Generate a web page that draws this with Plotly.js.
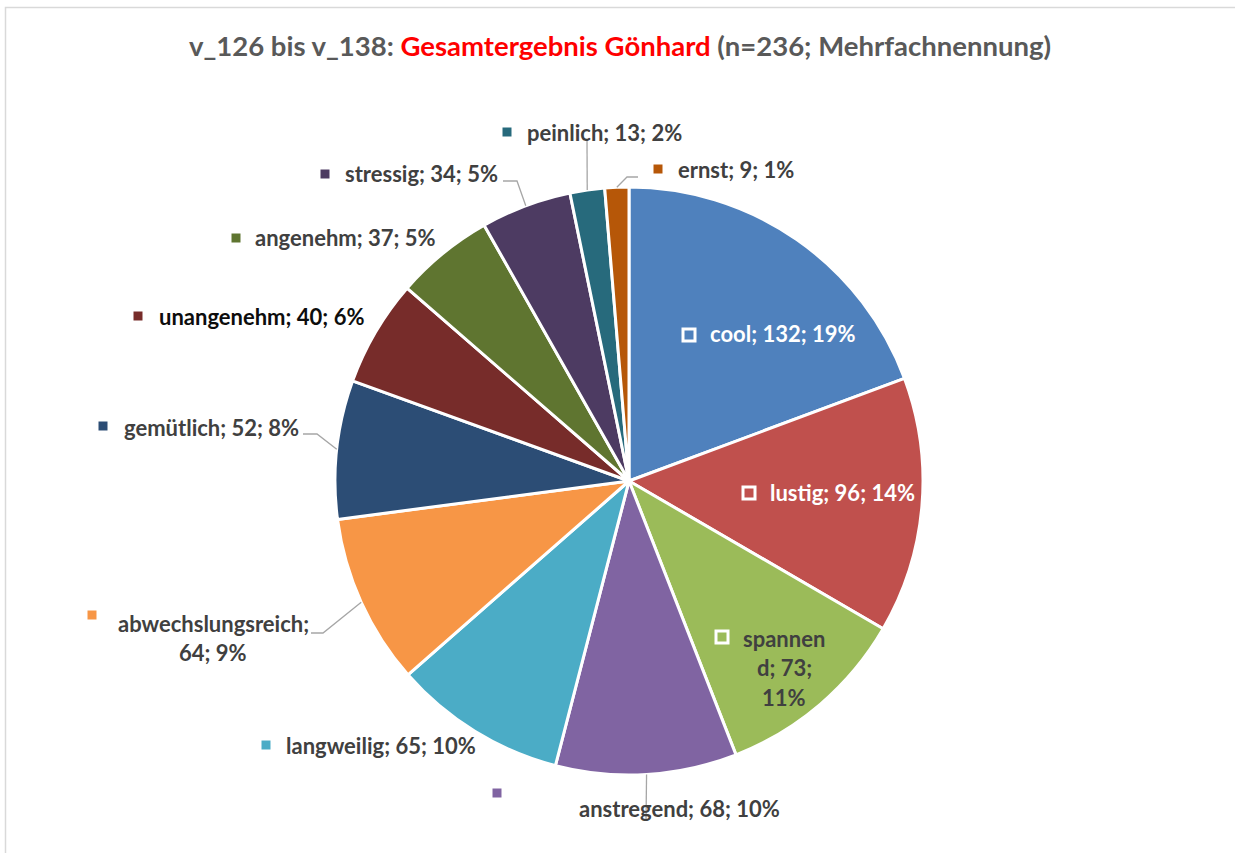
<!DOCTYPE html>
<html><head><meta charset="utf-8">
<script src="https://cdn.plot.ly/plotly-3.0.1.min.js"></script>
<style>html,body{margin:0;padding:0;background:#fff}</style>
</head><body><div id="chart" style="width:1235px;height:853px"></div>
<script>
// ---- data ----
const categories = ["cool","lustig","spannend","anstregend","langweilig","abwechslungsreich","gemütlich","unangenehm","angenehm","stressig","peinlich","ernst"];
const counts = [132,96,73,68,65,64,52,40,37,34,13,9];
const colors = ["#4F81BD","#C0504D","#9BBB59","#8064A2","#4BACC6","#F79646","#2C4D75","#772C2A","#5F7530","#4D3B62","#276A7C","#B65708"];
const titlePre = "v_126 bis v_138: ";
const titleRed = "Gesamtergebnis Gönhard";
const titlePost = " (n=236; Mehrfachnennung)";

// ---- layout helpers (pixels) ----
const W = 1235, H = 853;
const CX = 629, CY = 481, R = 294;
const px = x => x / W, py = y => 1 - y / H;
const FONT = "Lato, 'Open Sans', sans-serif";
const FS = 22;
const GRAY = "#404040";

// label placement: text anchor (left or center), marker position, marker style, leader polyline
const labelCfg = [
  {x:709, y:334, anchor:"left", mk:[689,335], hollow:true, color:"#ffffff"},
  {x:769, y:492, anchor:"left", mk:[749,493], hollow:true, color:"#ffffff"},
  {x:784, y:[638,667,697], breaks:[7,14], anchor:"center", mk:[722,637], hollow:true, color:GRAY},
  {x:578, y:808, anchor:"left", mk:[497,793], color:GRAY, leader:[[646,820]]},
  {x:285, y:745, anchor:"left", mk:[266,745], color:GRAY},
  {x:213, y:[623,652], breaks:[18], anchor:"center", mk:[92,615], color:GRAY, leader:[[323,633],[311,633]]},
  {x:123, y:427, anchor:"left", mk:[103,426], color:GRAY, leader:[[317,434],[303,434]]},
  {x:158, y:317, anchor:"left", mk:[138,316], color:"#0d0d0d"},
  {x:254, y:238, anchor:"left", mk:[236,238], color:GRAY},
  {x:344, y:174, anchor:"left", mk:[325,174], color:GRAY, leader:[[517,181],[503,181]]},
  {x:526, y:132, anchor:"left", mk:[507,132], color:GRAY, leader:[[587,140]]},
  {x:677, y:169, anchor:"left", mk:[658,169], color:GRAY, leader:[[627,177],[638,177]]}
];

const total = counts.reduce((a,b)=>a+b,0);
const annotations = [];
const shapes = [];

// frame
shapes.push({type:"rect", xref:"paper", yref:"paper", x0:px(5.5), x1:px(1245), y0:py(870), y1:py(7.5),
  line:{color:"#d9d9d9", width:1.5}, fillcolor:"rgba(0,0,0,0)", layer:"below"});

let cum = 0;
categories.forEach((cat, i) => {
  const v = counts[i];
  const pct = Math.round(v / total * 100);
  const full = `${cat}; ${v}; ${pct}%`;
  const cfg = labelCfg[i];
  const mid = (cum + v / 2) / total * 2 * Math.PI;
  cum += v;
  // leader line from slice edge midpoint
  if (cfg.leader) {
    let sx = CX + R * Math.sin(mid), sy = CY - R * Math.cos(mid);
    let path = `M ${px(sx)} ${py(sy)}`;
    cfg.leader.forEach(p => { path += ` L ${px(p[0])} ${py(p[1])}`; });
    shapes.push({type:"path", xref:"paper", yref:"paper", path, line:{color:"#a6a6a6", width:1.3}, layer:"above"});
  }
  // marker
  const s = cfg.hollow ? 6 : 4.5;
  shapes.push({type:"rect", xref:"paper", yref:"paper",
    x0:px(cfg.mk[0]-s), x1:px(cfg.mk[0]+s), y0:py(cfg.mk[1]+s), y1:py(cfg.mk[1]-s),
    line:{color: cfg.hollow ? "#ffffff" : colors[i], width: cfg.hollow ? 3 : 0},
    fillcolor: cfg.hollow ? "rgba(0,0,0,0)" : colors[i], layer:"above"});
  // text
  let lines = [full];
  if (cfg.breaks) {
    lines = []; let st = 0;
    cfg.breaks.forEach(b => { lines.push(full.slice(st, b).trim()); st = b; });
    lines.push(full.slice(st).trim());
  }
  const ys = Array.isArray(cfg.y) ? cfg.y : [cfg.y];
  lines.forEach((t, k) => {
    annotations.push({xref:"paper", yref:"paper", x:px(cfg.x), y:py(ys[k]), text:t, showarrow:false,
      xanchor:cfg.anchor, yanchor:"middle", borderpad:0,
      font:{family:FONT, size:FS, color:cfg.color, weight:700}});
  });
});

const trace = {
  type:"pie", labels:categories, values:counts, sort:false, direction:"clockwise", rotation:0,
  marker:{colors:colors, line:{color:"#ffffff", width:3}},
  textinfo:"none", hoverinfo:"label+value+percent", showlegend:false,
  domain:{x:[px(CX-R), px(CX+R)], y:[py(CY+R), py(CY-R)]}
};

const layout = {
  width:W, height:H, margin:{l:0,r:0,t:0,b:0}, paper_bgcolor:"#ffffff", showlegend:false,
  title:{text:`${titlePre}<span style="color:#ff0000">${titleRed}</span>${titlePost}`,
    x:px(620), xanchor:"center", y:py(46), yanchor:"middle", yref:"container",
    font:{family:FONT, size:27.5, color:"#595959", weight:700}},
  annotations, shapes
};
Plotly.newPlot("chart", [trace], layout, {displayModeBar:false, staticPlot:true});
</script></body></html>
